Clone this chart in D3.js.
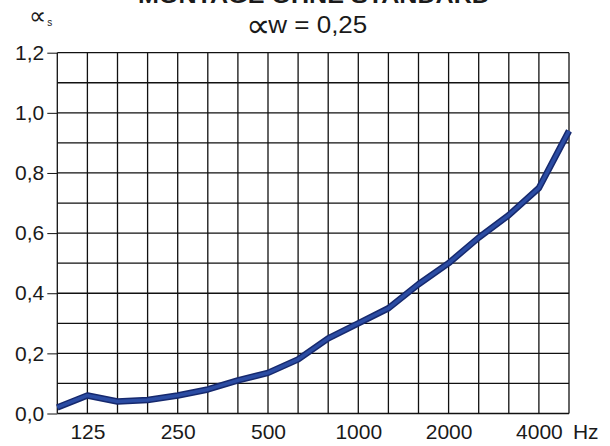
<!DOCTYPE html>
<html>
<head>
<meta charset="utf-8">
<script src="https://cdn.jsdelivr.net/npm/d3@7"></script>
<style>
    body { margin: 0; background: #fff; }
    text { font-family: "Liberation Sans", Arial, sans-serif; fill: #1a1a1a; }
</style>
</head>
<body>
<div class="graph"></div>
<script>
// Third-octave band centre frequencies (Hz)
const bands = [100, 125, 160, 200, 250, 315, 400, 500, 630, 800,
    1000, 1250, 1600, 2000, 2500, 3150, 4000, 5000];
// Absorption coefficient
const alphaS = [0.02, 0.06, 0.04, 0.045, 0.06, 0.08, 0.11, 0.135, 0.18, 0.25,
    0.30, 0.35, 0.43, 0.50, 0.585, 0.66, 0.75, 0.94];
const xLabels = [125, 250, 500, 1000, 2000, 4000];
const yLabels = [0, 0.2, 0.4, 0.6, 0.8, 1.0, 1.2];
const yGrid = d3.range(0, 13).map(i => i / 10);

const dimensions = {
    width: 610,
    height: 446,
    margins: { top: 52.7, right: 41, bottom: 32.5, left: 57.3 }
};
dimensions.boundedWidth = dimensions.width - dimensions.margins.left - dimensions.margins.right;
dimensions.boundedHeight = dimensions.height - dimensions.margins.top - dimensions.margins.bottom;

const labelFont = 21;

const wrapper = d3.select(".graph")
    .append("svg")
        .attr("width", dimensions.width)
        .attr("height", dimensions.height);

const bounds = wrapper.append("g")
    .attr("transform", `translate(${dimensions.margins.left},${dimensions.margins.top})`);

const xScale = d3.scalePoint()
    .domain(bands)
    .range([0, dimensions.boundedWidth]);

const yScale = d3.scaleLinear()
    .domain([0, 1.2])
    .range([dimensions.boundedHeight, 0]);

// grid
bounds.append("g")
    .selectAll("line")
    .data(bands)
    .join("line")
        .attr("x1", d => xScale(d))
        .attr("x2", d => xScale(d))
        .attr("y1", 0)
        .attr("y2", dimensions.boundedHeight)
        .attr("stroke", "#111")
        .attr("stroke-width", 1.3);

bounds.append("g")
    .selectAll("line")
    .data(yGrid)
    .join("line")
        .attr("x1", 0)
        .attr("x2", dimensions.boundedWidth)
        .attr("y1", d => yScale(d))
        .attr("y2", d => yScale(d))
        .attr("stroke", "#111")
        .attr("stroke-width", 1.3);

// y axis
const yAxis = d3.axisLeft(yScale)
    .tickValues(yLabels)
    .tickSize(10)
    .tickPadding(3)
    .tickFormat(d => d3.format(".1f")(d).replace(".", ","));

bounds.append("g")
    .call(yAxis)
    .call(g => g.select(".domain").remove())
    .call(g => g.selectAll("line").attr("stroke", "#111").attr("stroke-width", 1))
    .call(g => g.selectAll("text")
        .attr("font-size", labelFont)
        .attr("font-family", "Liberation Sans, Arial, sans-serif")
        .attr("fill", "#1a1a1a"));

// x axis
const xPad = 11;
const xAxis = d3.axisBottom(xScale)
    .tickValues(xLabels)
    .tickSize(0)
    .tickPadding(xPad)
    .tickFormat(d3.format("d"));

bounds.append("g")
    .attr("transform", `translate(0,${dimensions.boundedHeight})`)
    .call(xAxis)
    .call(g => g.select(".domain").remove())
    .call(g => g.selectAll("text")
        .attr("font-size", labelFont)
        .attr("font-family", "Liberation Sans, Arial, sans-serif")
        .attr("fill", "#1a1a1a"));

bounds.append("text")
    .attr("x", xScale(4000) + 34)
    .attr("y", dimensions.boundedHeight + xPad + 0.71 * labelFont)
    .attr("font-size", labelFont)
    .text("Hz");

// curve
const lineGenerator = d3.line()
    .x((d, i) => xScale(bands[i]))
    .y(d => yScale(d));

bounds.append("path")
    .attr("d", lineGenerator(alphaS))
    .attr("fill", "none")
    .attr("stroke", "#16296e")
    .attr("stroke-width", 6.5)
    .attr("stroke-linejoin", "round");

bounds.append("path")
    .attr("d", lineGenerator(alphaS))
    .attr("fill", "none")
    .attr("stroke", "#2b4ca3")
    .attr("stroke-width", 3.5)
    .attr("stroke-linejoin", "round");

// titles (first line is cropped at the top edge in the original)
wrapper.append("text")
    .attr("x", 138)
    .attr("y", 3)
    .attr("font-size", 22)
    .attr("font-weight", "bold")
    .attr("textLength", 352)
    .attr("lengthAdjust", "spacingAndGlyphs")
    .attr("fill", "#666")
    .text("MONTAGE OHNE STANDARD");

const subTitle = wrapper.append("text")
    .attr("x", 246)
    .attr("y", 33)
    .attr("font-size", 23);
subTitle.append("tspan")
    .attr("font-family", "DejaVu Sans")
    .attr("font-size", 34)
    .attr("dy", 4)
    .text("\u221D");
subTitle.append("tspan")
    .attr("dy", -4)
    .attr("dx", -2)
    .attr("textLength", 99)
    .attr("lengthAdjust", "spacingAndGlyphs")
    .text("w = 0,25");

const yLabel = wrapper.append("text")
    .attr("x", 29)
    .attr("y", 23.5);
yLabel.append("tspan")
    .attr("font-family", "DejaVu Sans")
    .attr("font-size", 24)
    .text("\u221D");
yLabel.append("tspan").attr("font-size", 10).attr("dy", 2).attr("dx", 1).text("s");
</script>
</body>
</html>
